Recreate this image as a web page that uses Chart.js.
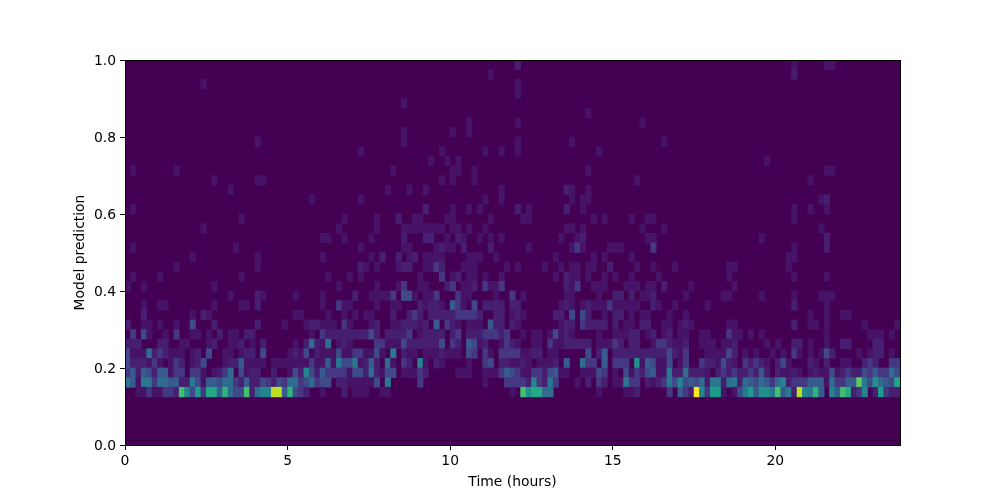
<!DOCTYPE html>
<html>
<head>
<meta charset="utf-8">
<style>html,body{margin:0;padding:0;background:#fff}canvas{display:block}</style>
<script src="https://cdn.jsdelivr.net/npm/chart.js@4/dist/chart.umd.min.js"></script>
</head>
<body>
<canvas id="c" width="1000" height="500"></canvas>
<script>
// Histogram counts, one list per prediction bin, as [time bin, count]
const row05=[[2,2],[3,2],[4,4],[5,2],[6,2],[7,4],[8,4],[9,3],[10,14],[11,9],[12,5],[13,11],[14,4],[15,12],[16,12],[17,6],[18,13],[19,7],[20,5],[21,5],[22,14],[23,3],[24,7],[25,9],[26,9],[27,18],[28,18],[29,6],[30,13],[31,5],[32,4],[33,3],[36,2],[40,3],[42,2],[43,2],[44,2],[47,2],[48,2],[71,2],[73,14],[74,10],[75,12],[76,12],[77,7],[78,7],[87,2],[92,2],[93,2],[94,3],[100,4],[102,6],[103,4],[104,3],[105,20],[106,9],[107,4],[108,11],[109,11],[110,2],[112,2],[113,5],[114,8],[115,11],[116,6],[117,10],[118,10],[119,8],[120,14],[121,6],[122,8],[123,3],[124,18],[125,9],[126,8],[127,13],[128,6],[130,9],[131,6],[132,14],[133,12],[134,3],[135,4],[136,9],[138,3],[139,11],[140,4],[141,3],[142,3]];
const row06=[[0,8],[1,6],[2,2],[3,8],[4,8],[5,4],[6,7],[7,7],[8,6],[9,6],[10,3],[11,3],[12,8],[13,5],[14,2],[15,6],[16,6],[17,5],[18,7],[19,7],[20,4],[21,3],[22,6],[23,3],[24,3],[25,5],[26,4],[27,3],[28,5],[29,4],[30,7],[31,7],[32,4],[33,5],[34,7],[35,4],[36,5],[37,5],[39,3],[40,3],[41,2],[42,2],[43,2],[44,2],[45,2],[46,5],[48,8],[54,4],[66,2],[70,4],[71,4],[72,4],[73,4],[74,3],[75,9],[76,4],[77,3],[78,8],[79,4],[83,2],[85,3],[87,4],[88,3],[90,2],[91,2],[92,8],[93,4],[94,4],[96,3],[97,2],[98,3],[99,4],[100,8],[101,5],[102,9],[103,5],[104,6],[105,5],[106,7],[107,3],[108,8],[109,8],[110,3],[111,7],[112,8],[113,3],[114,7],[115,6],[116,5],[117,7],[118,6],[119,4],[120,7],[121,9],[122,3],[123,4],[124,4],[125,4],[126,6],[127,6],[128,6],[129,2],[130,7],[131,4],[132,4],[133,6],[134,6],[135,15],[136,8],[137,5],[138,10],[139,7],[140,6],[141,5],[142,12]];
const row07=[[0,4],[1,6],[2,3],[3,6],[4,5],[5,3],[6,6],[7,6],[8,2],[9,4],[10,4],[12,4],[13,4],[14,2],[16,2],[17,3],[18,4],[19,7],[21,5],[22,2],[23,3],[24,3],[27,3],[30,2],[31,5],[32,3],[33,9],[34,5],[35,3],[36,6],[37,4],[38,4],[39,4],[40,4],[41,2],[42,5],[43,5],[44,3],[45,7],[46,3],[47,2],[48,5],[49,5],[51,2],[52,2],[53,2],[54,4],[55,3],[61,2],[62,2],[63,2],[66,2],[67,2],[68,2],[69,4],[70,6],[71,5],[72,4],[73,2],[74,2],[75,4],[76,4],[77,3],[78,5],[79,6],[80,2],[81,2],[84,2],[85,2],[86,2],[87,5],[88,4],[90,2],[92,5],[93,2],[94,4],[95,3],[96,5],[97,6],[98,2],[99,2],[100,8],[101,3],[102,3],[103,7],[104,3],[105,3],[106,3],[107,2],[109,3],[110,4],[111,3],[112,4],[113,3],[114,3],[115,4],[116,3],[117,6],[118,3],[120,3],[121,2],[122,2],[123,3],[124,2],[126,2],[127,3],[128,2],[129,2],[130,5],[131,2],[132,3],[133,4],[134,3],[135,3],[136,5],[137,4],[138,6],[139,4],[140,4],[141,7],[142,5]];
const row08=[[0,5],[1,3],[2,3],[3,3],[4,2],[5,4],[6,2],[8,2],[9,4],[10,3],[12,2],[13,3],[14,5],[18,2],[19,3],[20,3],[21,6],[22,2],[23,2],[24,2],[25,2],[27,2],[28,2],[29,2],[30,2],[31,2],[32,2],[33,2],[34,4],[35,2],[36,2],[37,6],[38,2],[39,8],[40,5],[41,5],[42,8],[43,2],[44,3],[45,6],[46,3],[48,7],[49,2],[51,4],[52,3],[54,9],[55,2],[57,3],[58,2],[63,2],[66,4],[67,5],[69,3],[70,3],[71,2],[72,2],[73,3],[74,2],[76,2],[77,2],[78,2],[79,3],[81,6],[84,7],[85,4],[86,4],[88,6],[90,4],[91,4],[92,4],[94,10],[95,2],[96,6],[97,5],[98,2],[99,2],[100,5],[102,2],[103,4],[106,4],[107,3],[108,3],[109,2],[110,5],[111,3],[112,2],[114,4],[115,3],[116,4],[117,3],[118,2],[120,3],[121,5],[122,2],[126,3],[127,2],[129,3],[132,2],[133,2],[136,3],[137,4],[138,3],[141,4],[142,4]];
const row09=[[0,5],[1,2],[2,2],[3,2],[4,7],[5,3],[6,4],[7,3],[8,2],[9,2],[10,2],[12,2],[13,3],[15,5],[18,2],[19,2],[21,2],[22,3],[23,3],[25,5],[30,2],[31,3],[32,2],[33,5],[34,1],[35,3],[36,2],[37,2],[38,2],[39,5],[40,2],[41,2],[42,4],[43,4],[44,2],[45,2],[46,5],[47,2],[49,8],[51,3],[52,2],[53,2],[55,2],[56,2],[57,2],[58,3],[59,2],[60,2],[61,2],[63,5],[64,4],[66,4],[67,2],[69,4],[70,4],[71,4],[72,4],[73,2],[74,2],[75,3],[76,3],[78,2],[79,2],[85,5],[87,3],[88,6],[90,3],[91,3],[92,3],[93,3],[94,3],[95,3],[96,3],[97,3],[98,3],[99,3],[100,5],[101,3],[102,2],[103,4],[107,2],[108,2],[109,2],[110,2],[111,5],[112,3],[114,2],[116,2],[119,2],[121,2],[123,4],[124,2],[126,2],[128,2],[129,5],[130,3],[135,2],[137,2],[138,3],[139,3],[141,2]];
const row10=[[0,3],[1,3],[2,3],[6,3],[7,3],[10,2],[11,2],[15,2],[16,3],[19,2],[20,2],[21,3],[23,2],[25,3],[31,2],[33,3],[34,7],[35,3],[36,2],[37,7],[39,2],[40,3],[41,2],[46,4],[47,4],[48,2],[49,2],[50,2],[51,5],[52,3],[53,3],[54,3],[55,3],[56,3],[57,3],[58,5],[60,4],[61,3],[63,6],[64,5],[65,2],[66,3],[69,2],[70,4],[71,3],[72,2],[75,2],[76,2],[78,4],[79,2],[80,2],[81,3],[82,3],[83,3],[84,3],[85,3],[87,2],[88,2],[89,2],[90,4],[91,3],[93,3],[94,3],[97,2],[98,4],[99,4],[100,3],[101,2],[102,2],[103,3],[106,2],[107,2],[108,2],[110,2],[111,2],[112,3],[118,2],[120,2],[123,3],[124,3],[126,2],[129,2],[132,3],[133,3],[138,3],[139,3]];
const row11=[[1,4],[3,5],[4,2],[7,2],[9,4],[12,2],[13,2],[15,2],[17,3],[19,2],[20,2],[22,3],[23,3],[34,2],[36,4],[37,3],[38,3],[39,3],[40,3],[41,3],[42,3],[43,3],[44,3],[45,5],[46,3],[48,3],[49,3],[50,3],[51,3],[52,4],[54,2],[55,3],[56,3],[57,3],[58,3],[60,3],[61,4],[63,3],[64,3],[65,3],[66,4],[67,4],[68,4],[69,3],[70,4],[73,2],[75,2],[76,2],[78,2],[79,5],[80,2],[81,3],[82,2],[87,2],[90,2],[91,2],[92,2],[93,3],[94,3],[96,2],[97,3],[99,2],[100,3],[102,2],[103,2],[106,2],[107,2],[111,4],[112,2],[113,2],[115,2],[117,2],[129,2],[137,2],[138,2],[139,2],[141,2]];
const row12=[[0,3],[3,2],[4,2],[6,2],[9,2],[12,5],[16,3],[24,3],[29,2],[33,2],[34,3],[35,3],[36,2],[37,2],[38,2],[40,4],[41,2],[45,2],[46,3],[49,2],[50,2],[51,3],[52,3],[53,3],[54,2],[55,3],[57,6],[59,4],[60,3],[61,2],[63,2],[64,2],[65,2],[67,6],[68,3],[69,3],[71,3],[72,2],[80,2],[81,3],[82,3],[84,4],[85,3],[86,3],[87,3],[88,3],[90,3],[92,2],[93,2],[95,3],[96,3],[99,2],[100,2],[102,2],[103,3],[104,2],[111,2],[112,2],[123,3],[126,2],[127,2],[129,2],[136,2],[142,2]];
const row13=[[3,3],[12,2],[14,3],[15,2],[31,2],[32,2],[37,2],[40,2],[42,2],[44,2],[45,2],[49,3],[52,3],[53,4],[54,3],[56,3],[57,3],[58,3],[59,3],[60,3],[61,4],[62,4],[63,4],[64,4],[65,3],[68,3],[69,3],[71,2],[72,3],[73,2],[79,3],[80,3],[82,5],[84,5],[85,3],[88,2],[90,3],[91,3],[93,2],[95,2],[96,2],[100,2],[103,2],[126,2],[129,2],[132,2],[133,2]];
const row14=[[3,2],[6,2],[7,2],[16,2],[21,2],[22,2],[24,3],[36,2],[39,4],[40,2],[41,2],[46,2],[49,2],[50,2],[54,3],[55,2],[56,3],[57,3],[58,2],[60,6],[61,4],[62,2],[64,5],[66,3],[67,3],[68,3],[69,3],[71,3],[72,3],[80,2],[81,3],[82,2],[84,2],[85,3],[86,2],[87,2],[88,2],[89,4],[90,2],[91,2],[92,2],[93,2],[94,2],[97,3],[98,2],[101,2],[107,2],[123,3],[129,2]];
const row15=[[19,2],[24,3],[25,2],[31,2],[36,2],[42,3],[45,2],[46,2],[47,2],[48,2],[49,4],[51,5],[52,5],[53,2],[55,2],[56,2],[57,4],[61,4],[62,2],[63,2],[68,2],[71,4],[73,2],[81,2],[82,2],[87,2],[90,3],[91,3],[93,3],[95,2],[96,2],[97,3],[103,2],[110,2],[111,2],[117,2],[123,2],[128,2],[129,2],[130,2]];
const row16=[[0,2],[3,2],[16,2],[39,2],[46,2],[50,2],[51,4],[54,2],[55,2],[59,3],[60,4],[62,2],[63,2],[64,3],[66,4],[67,2],[68,2],[69,4],[81,3],[82,2],[83,4],[86,2],[87,2],[88,2],[92,2],[93,2],[94,2],[96,2],[97,2],[99,3],[104,2],[112,2]];
const row17=[[1,2],[6,2],[21,2],[37,2],[41,2],[43,2],[54,2],[58,4],[60,2],[61,3],[63,2],[64,2],[66,2],[69,2],[79,2],[81,3],[82,2],[83,2],[85,2],[88,2],[90,2],[93,2],[98,2],[111,2],[123,2],[129,2]];
const row18=[[9,2],[24,2],[43,3],[44,2],[46,2],[50,2],[51,3],[52,3],[55,2],[56,2],[57,4],[58,3],[62,2],[63,2],[64,2],[70,2],[72,2],[77,2],[80,2],[82,2],[83,2],[85,2],[86,2],[89,3],[94,2],[97,2],[101,2],[111,2],[112,2],[122,2]];
const row19=[[12,2],[24,2],[36,2],[45,2],[47,3],[50,3],[52,2],[53,3],[55,2],[56,2],[57,2],[58,2],[63,2],[64,2],[65,2],[68,2],[79,2],[86,2],[88,2],[93,2],[122,2],[123,2]];
const row20=[[1,2],[20,2],[43,2],[51,2],[52,2],[57,2],[58,3],[59,2],[60,2],[62,3],[67,3],[74,2],[82,2],[83,4],[84,2],[89,2],[90,2],[91,2],[97,4],[123,2],[129,3]];
const row21=[[36,2],[37,2],[40,2],[45,2],[51,3],[55,3],[56,3],[59,2],[61,3],[62,2],[65,2],[67,2],[69,2],[80,2],[83,2],[84,3],[96,2],[97,2],[117,2],[129,3]];
const row22=[[14,2],[39,2],[46,2],[51,2],[52,2],[53,2],[54,2],[55,2],[56,2],[57,2],[58,2],[60,2],[61,2],[63,2],[66,2],[81,2],[82,2],[84,2],[95,2],[99,2],[128,2]];
const row23=[[21,2],[40,2],[46,2],[50,3],[53,2],[54,2],[59,2],[60,2],[67,2],[73,2],[74,2],[86,2],[88,2],[93,2],[96,2],[97,2],[123,2]];
const row24=[[1,2],[55,3],[60,2],[63,2],[65,2],[72,3],[74,2],[81,3],[84,2],[123,2],[126,2],[129,2]];
const row25=[[34,2],[43,2],[66,2],[69,2],[82,2],[84,2],[85,2],[128,2],[129,3]];
const row26=[[19,2],[48,2],[52,2],[55,2],[69,2],[81,3],[82,2],[85,2]];
const row27=[[16,2],[24,2],[25,2],[58,2],[60,2],[64,2],[94,2],[126,2]];
const row28=[[1,2],[9,2],[49,2],[60,2],[61,2],[64,2],[85,2],[129,2],[130,2]];
const row29=[[56,2],[59,2],[61,2],[118,2]];
const row30=[[43,2],[58,2],[66,2],[69,2],[72,2],[87,2]];
const row31=[[24,2],[51,2],[72,2],[82,2],[99,2]];
const row32=[[51,2],[60,2],[63,2]];
const row33=[[63,2],[72,2],[95,2]];
const row34=[[85,2]];
const row35=[[51,2]];
const row36=[[72,2]];
const row37=[[14,2],[72,2]];
const row38=[[67,2],[123,3]];
const row39=[[72,3],[123,2],[129,2],[130,2]];

const rowLists={5:row05,6:row06,7:row07,8:row08,9:row09,10:row10,11:row11,12:row12,13:row13,14:row14,15:row15,16:row16,17:row17,18:row18,19:row19,20:row20,21:row21,22:row22,23:row23,24:row24,25:row25,26:row26,27:row27,28:row28,29:row29,30:row30,31:row31,32:row32,33:row33,34:row34,35:row35,36:row36,37:row37,38:row38,39:row39};
const binsPerHour=6, timeBins=143, predictionBin=0.025;
const xTicks=[0,5,10,15,20];
const yTicks=[0,0.2,0.4,0.6,0.8,1];
const colorLevels=['#440154','#46085c','#461367','#471f70','#453781','#3f4a89','#375b8d','#2f6c8e','#2a788e','#25858e','#21918c','#1e9c89','#22a884','#2fb47c','#44bf70','#5ec962','#7ad151','#9bd93c','#bddf26','#dfe318','#fde725'];

const datasets=Object.keys(rowLists).map(k=>{
  const r=+k;
  return {
    data:rowLists[k].map(p=>({x:(p[0]+0.5)/binsPerHour,y:[r*predictionBin,(r+1)*predictionBin]})),
    backgroundColor:rowLists[k].map(p=>colorLevels[p[1]]),
    borderWidth:0,barPercentage:1,categoryPercentage:1
  };
});

const frame={
  id:'frame',
  beforeDatasetsDraw(ch){const a=ch.chartArea,c=ch.ctx;c.save();c.fillStyle=colorLevels[0];c.fillRect(a.left,a.top,a.right-a.left,a.bottom-a.top);c.restore();},
  afterDatasetsDraw(ch){const a=ch.chartArea,c=ch.ctx;c.save();c.strokeStyle='#000';c.lineWidth=1;c.strokeRect(a.left+0.5,a.top+0.5,a.right-a.left,a.bottom-a.top);c.restore();}
};
const font={family:'"DejaVu Sans"',size:13.9};
new Chart(document.getElementById('c'),{
  type:'bar',
  data:{datasets},
  plugins:[frame],
  options:{
    responsive:false,animation:false,devicePixelRatio:1,
    layout:{padding:{left:0,right:100,top:60,bottom:0}},
    plugins:{legend:{display:false},tooltip:{enabled:false}},
    datasets:{bar:{grouped:false}},
    scales:{
      x:{type:'linear',min:0,max:timeBins/binsPerHour,offset:false,
        afterFit(s){s.height=55;},
        afterBuildTicks(s){s.ticks=xTicks.map(v=>({value:v}));},
        grid:{offset:false,drawOnChartArea:false,tickLength:5,tickColor:'#000',tickWidth:1},
        border:{display:false},
        ticks:{color:'#000',font,maxRotation:0,padding:3,callback:v=>String(v)},
        title:{display:true,text:'Time (hours)',color:'#000',font,padding:{top:0,bottom:9}}
      },
      y:{type:'linear',min:0,max:1,
        afterFit(s){s.width=125;},
        afterBuildTicks(s){s.ticks=yTicks.map(v=>({value:v}));},
        grid:{drawOnChartArea:false,tickLength:5,tickColor:'#000',tickWidth:1},
        border:{display:false},
        ticks:{color:'#000',font,padding:4,labelOffset:1,callback:v=>v.toFixed(1)},
        title:{display:true,text:'Model prediction',color:'#000',font,padding:{top:72,bottom:0}}
      }
    }
  }
});
</script>
</body>
</html>
